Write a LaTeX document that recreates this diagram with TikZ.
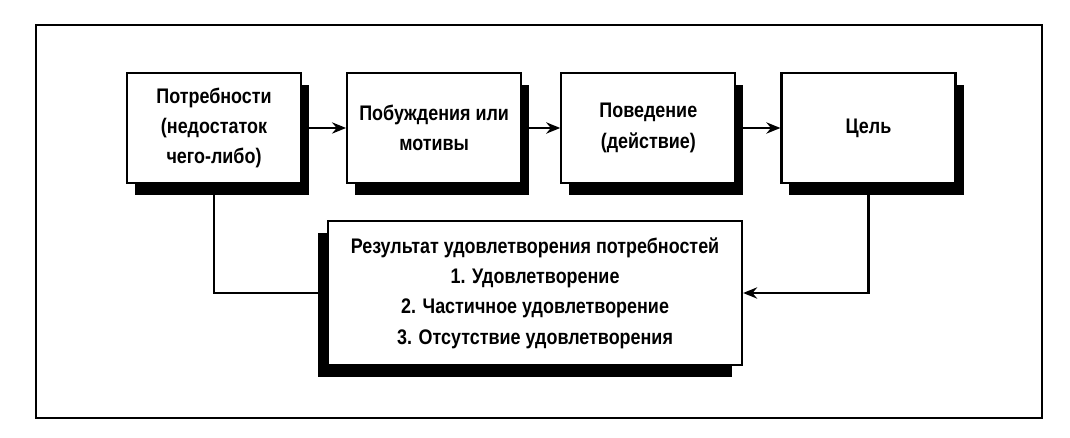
\documentclass[tikz,border=0pt]{standalone}
\usepackage{fontspec}
\setmainfont{Liberation Sans}[FakeStretch=0.85]
\usetikzlibrary{positioning,shadows,arrows.meta}

\begin{document}
\begin{tikzpicture}[
				x=0.025cm, y=-0.025cm,
				block/.style={rectangle, draw=black, line width=1.5pt, fill=white, align=center, font=\fontsize{15}{21.5}\selectfont\bfseries},
				topbox/.style={block, minimum width=4.35cm, minimum height=2.75cm, drop shadow={shadow xshift=0.2cm, shadow yshift=-0.3cm, opacity=1, fill=black}},
				resultbox/.style={block, minimum width=10.35cm, minimum height=3.6cm, drop shadow={shadow xshift=-0.24cm, shadow yshift=-0.3cm, opacity=1, fill=black}}
			]
			\useasboundingbox (0,0) rectangle (1070,438);
			\draw[line width=1.6pt] (36,25) rectangle (1042,418);
			\node[topbox] (need) at (214,128) {Потребности\\(недостаток\\чего-либо)};
			\node[topbox] (motive) [right=1.1cm of need] {Побуждения или\\мотивы};
			\node[topbox] (behave) [right=0.95cm of motive] {Поведение\\(действие)};
			\node[topbox] (goal) [right=1.1cm of behave] {Цель};
			\node[resultbox] (result) at (535,293) {Результат удовлетворения потребностей\\1. Удовлетворение\\2. Частичное удовлетворение\\3. Отсутствие удовлетворения};
			\begin{scope}[line width=1.8pt, -{Stealth[length=3.5mm, width=2.8mm]}]
			\draw (need) -- (motive);
			\draw (motive) -- (behave);
			\draw (behave) -- (goal);
			\draw (goal.south) |- (result.east);
			\draw[-] (result.west) -| (need.south);
			\end{scope}
			\end{tikzpicture}
\end{document}
